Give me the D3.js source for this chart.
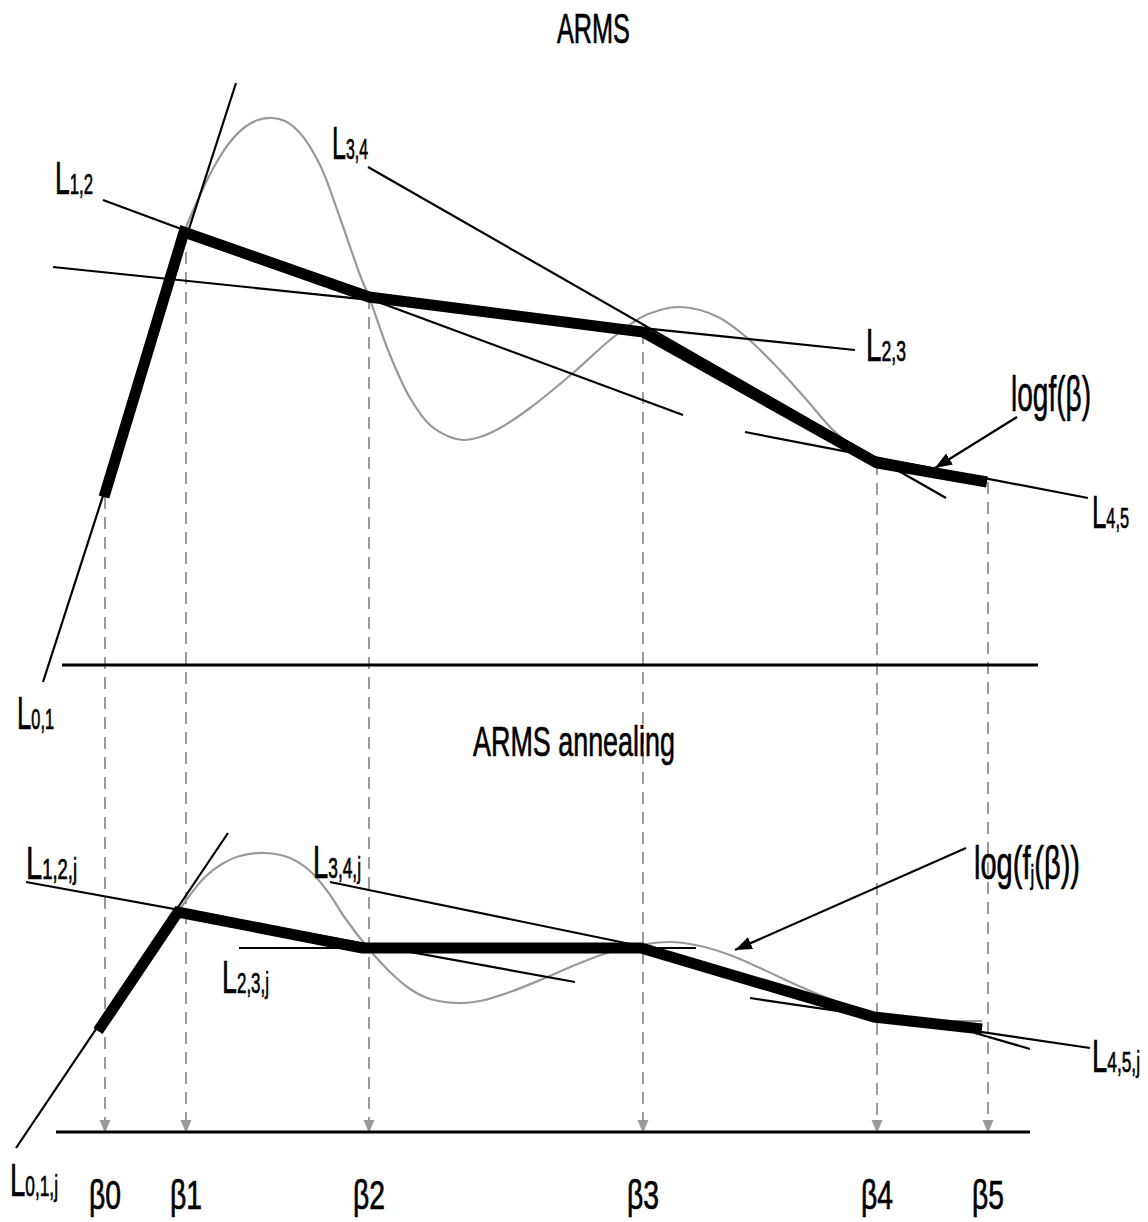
<!DOCTYPE html>
<html>
<head>
<meta charset="utf-8">
<script src="https://cdn.jsdelivr.net/npm/d3@7"></script>
<style>
  html, body { margin: 0; padding: 0; background: #fff; }
  svg { display: block; }
</style>
</head>
<body>
<svg id="chart" width="1148" height="1222"></svg>
<script>
// ---- knots on the β axis ----
const knots = [105, 186, 369, 643, 877, 988];
const knotLabels = ["β0", "β1", "β2", "β3", "β4", "β5"];

// ---- ARMS (upper panel), heights above the panel baseline ----
const armsHullX = [104, 184, 369, 643, 877, 987];
const armsHullY = [168, 433, 368, 333, 202, 183];

const armsCurveX = [184, 200, 215, 230, 245, 258, 272, 285, 300, 320, 340, 360, 369, 390, 410, 430, 450, 463, 480, 500, 530, 573, 610, 640, 660, 678, 700, 720, 745, 775, 805, 833, 855, 877];
const armsCurveY = [433, 470, 500, 523, 538, 545, 547, 544, 532, 500, 447, 390, 368, 310, 267, 240, 228, 225, 228, 237, 257, 292, 325, 347, 355, 358, 355, 347, 329, 300, 267, 235, 217, 204];

const armsTangentNames = ["0,1", "1,2", "2,3", "3,4", "4,5"];
const armsTangentX = [[43, 236], [103, 683], [53, 855], [368, 946], [745, 1088]];
const armsTangentY = [[-17, 582], [465, 250], [398, 315], [498, 167], [233, 167]];

// ---- ARMS annealing (lower panel) ----
const annealHullX = [98, 178, 362, 641, 874, 982];
const annealHullY = [101, 220, 184, 184, 115, 103];

const annealCurveX = [178, 190, 205, 222, 240, 265, 290, 310, 328, 345, 368, 390, 410, 430, 458, 480, 510, 545, 580, 610, 640, 670, 700, 730, 760, 790, 820, 850, 875, 910, 950, 982];
const annealCurveY = [220, 237, 255, 268, 276, 279, 274, 261, 240, 214, 184, 160, 143, 133, 129, 131, 140, 154, 169, 180, 187, 190, 186, 177, 164, 150, 137, 126, 118, 113, 111, 111];

const annealTangentNames = ["0,1,j", "1,2,j", "2,3,j", "3,4,j", "4,5,j", ""];
const annealTangentX = [[16, 228], [26, 575], [239, 696], [330, 640], [750, 1090], [975, 1030]];
const annealTangentY = [[-16, 299], [250, 150], [184, 184], [250, 186], [134, 84], [99, 83]];

// ---- scales ----
const W = 1148, H = 1222;
const x = d3.scaleLinear().domain([0, W]).range([0, W]);
const yArms = d3.scaleLinear().domain([0, 650]).range([665, 15]);
const yAnneal = d3.scaleLinear().domain([0, 330]).range([1132, 802]);

const svg = d3.select("#chart");
const FONT = "'Liberation Sans Narrow','Liberation Sans',Arial,sans-serif";

svg.append("defs").append("marker")
  .attr("id", "head")
  .attr("markerUnits", "userSpaceOnUse")
  .attr("viewBox", "0 0 17 13")
  .attr("refX", 17).attr("refY", 6.5)
  .attr("markerWidth", 17).attr("markerHeight", 13)
  .attr("orient", "auto")
  .append("path").attr("d", "M0,0 L17,6.5 L0,13 Z").attr("fill", "#000");

const zip = (xs, ys) => xs.map((v, i) => [v, ys[i]]);

// ---- guide lines from each knot down to the β axis ----
const guides = svg.append("g");
knots.forEach((k, i) => {
  guides.append("line")
    .attr("x1", x(k)).attr("x2", x(k))
    .attr("y1", yArms(armsHullY[i])).attr("y2", yAnneal(0) - 12)
    .attr("stroke", "#9a9a9a").attr("stroke-width", 2)
    .attr("stroke-dasharray", "12,8");
  guides.append("path")
    .attr("d", `M${x(k) - 5.5},${yAnneal(0) - 12} L${x(k) + 5.5},${yAnneal(0) - 12} L${x(k)},${yAnneal(0) + 1} Z`)
    .attr("fill", "#9a9a9a");
});

// ---- panel baselines ----
svg.append("line").attr("x1", x(62)).attr("x2", x(1038))
  .attr("y1", yArms(0)).attr("y2", yArms(0))
  .attr("stroke", "#000").attr("stroke-width", 3);
svg.append("line").attr("x1", x(56)).attr("x2", x(1030))
  .attr("y1", yAnneal(0)).attr("y2", yAnneal(0))
  .attr("stroke", "#000").attr("stroke-width", 3);

function drawPanel(y, curveX, curveY, hullX, hullY, tanX, tanY, hullWidth) {
  const g = svg.append("g");
  const line = d3.line().x(d => x(d[0])).y(d => y(d[1]));
  // target log-density
  g.append("path")
    .attr("d", line.curve(d3.curveCatmullRom.alpha(0.5))(zip(curveX, curveY)))
    .attr("fill", "none").attr("stroke", "#999").attr("stroke-width", 2.2);
  // tangent / secant lines
  tanX.forEach((xs, i) => {
    g.append("path")
      .attr("d", d3.line().x(d => x(d[0])).y(d => y(d[1]))(zip(xs, tanY[i])))
      .attr("fill", "none").attr("stroke", "#000").attr("stroke-width", 2.2);
  });
  // piecewise-linear envelope
  g.append("path")
    .attr("d", d3.line().x(d => x(d[0])).y(d => y(d[1]))(zip(hullX, hullY)))
    .attr("fill", "none").attr("stroke", "#000")
    .attr("stroke-width", hullWidth).attr("stroke-linejoin", "miter")
    .attr("stroke-linecap", "butt");
}

drawPanel(yArms, armsCurveX, armsCurveY, armsHullX, armsHullY, armsTangentX, armsTangentY, 11);
drawPanel(yAnneal, annealCurveX, annealCurveY, annealHullX, annealHullY, annealTangentX, annealTangentY, 11);

// ---- pointer arrows to the density curves ----
svg.append("line")
  .attr("x1", x(1017)).attr("y1", yArms(248)).attr("x2", x(935)).attr("y2", yArms(197))
  .attr("stroke", "#000").attr("stroke-width", 2.2).attr("marker-end", "url(#head)");
svg.append("line")
  .attr("x1", x(966)).attr("y1", yAnneal(284)).attr("x2", x(735)).attr("y2", yAnneal(182))
  .attr("stroke", "#000").attr("stroke-width", 2.2).attr("marker-end", "url(#head)");

// ---- text ----
function label(parts, px, py, width, anchor) {
  const t = svg.append("text").attr("font-family", FONT).attr("fill", "#000")
    .attr("stroke", "#000").attr("stroke-width", 0.7);
  parts.forEach(p => t.append("tspan").attr("font-size", p[1]).attr("dy", p[2] || 0).text(p[0]));
  const w = t.node().getBBox().width;
  const sx = width / w;
  const tx = anchor === "middle" ? px - width / 2 : px;
  t.attr("transform", `translate(${tx},${py}) scale(${sx},1)`);
}

label([["ARMS", 43]], 557, 43, 73);
label([["ARMS annealing", 43]], 473, 756, 202);

const armsLabelPos = [[17, 729, 37], [55, 194, 38], [866, 361, 40], [332, 159, 36], [1092, 528, 37]];
armsTangentNames.forEach((n, i) => {
  const p = armsLabelPos[i];
  label([["L", 46], [n, 29]], p[0], p[1], p[2]);
});
const annealLabelPos = [[10, 1196, 48], [26, 879, 51], [222, 993, 47], [313, 878, 48], [1092, 1072, 48]];
annealTangentNames.forEach((n, i) => {
  if (!n) return;
  const p = annealLabelPos[i];
  label([["L", 46], [n, 29]], p[0], p[1], p[2]);
});

label([["logf(β)", 50]], 1011, 411, 80);
label([["log(f", 47], ["j", 27, 5], ["(β))", 47, -5]], 974, 879, 106);

knots.forEach((k, i) => label([[knotLabels[i], 40]], x(k), 1209, 32, "middle"));
</script>
</body>
</html>
